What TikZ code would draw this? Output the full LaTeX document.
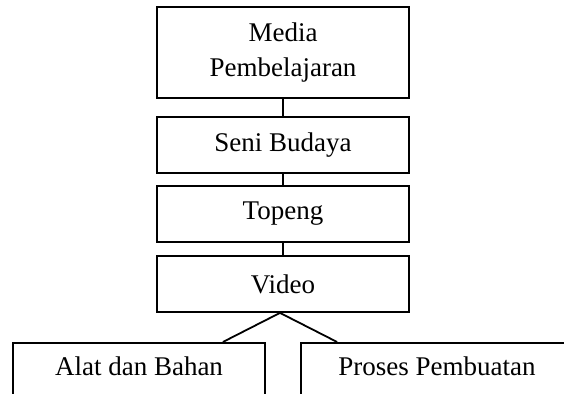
\documentclass[tikz,border=0pt]{standalone}
\usepackage{fontspec}
\setmainfont{Liberation Serif}
\usetikzlibrary{positioning}
\tikzset{
  box/.style={draw, line width=0.9pt, minimum width=126pt, inner sep=3pt,
    font=\fontsize{13.5}{17.5}\selectfont, align=center},
  link/.style={line width=0.9pt},
}
\begin{document}
\begin{tikzpicture}[x=0.5pt,y=-0.5pt]
    \useasboundingbox (0,0) rectangle (564,394);
    \node [box, minimum height=45.5pt] (media) at (283,52.5) {Media\\Pembelajaran};
    \node [box, minimum height=28pt] (seni) at (283,145) {Seni Budaya};
    \node [box, minimum height=28pt] (topeng) at (283,214) {Topeng};
    \node [box, minimum height=28pt] (video) at (283,284) {Video};
    \node [box, anchor=north, text height=13.5pt, text depth=14.5pt] (alat) at (139,342) {Alat dan Bahan};
    \node [box, anchor=north, minimum width=136pt, text height=13.5pt, text depth=14.5pt] (proses) at (437,342) {Proses Pembuatan};
    \draw [link] (media) -- (seni);
    \draw [link] (seni) -- (topeng);
    \draw [link] (topeng) -- (video);
    \draw [link] ([xshift=-21.5pt]alat.north east) -- ([xshift=-1.5pt]video.south) -- ([xshift=18.5pt]proses.north west);
  \end{tikzpicture}
\end{document}
